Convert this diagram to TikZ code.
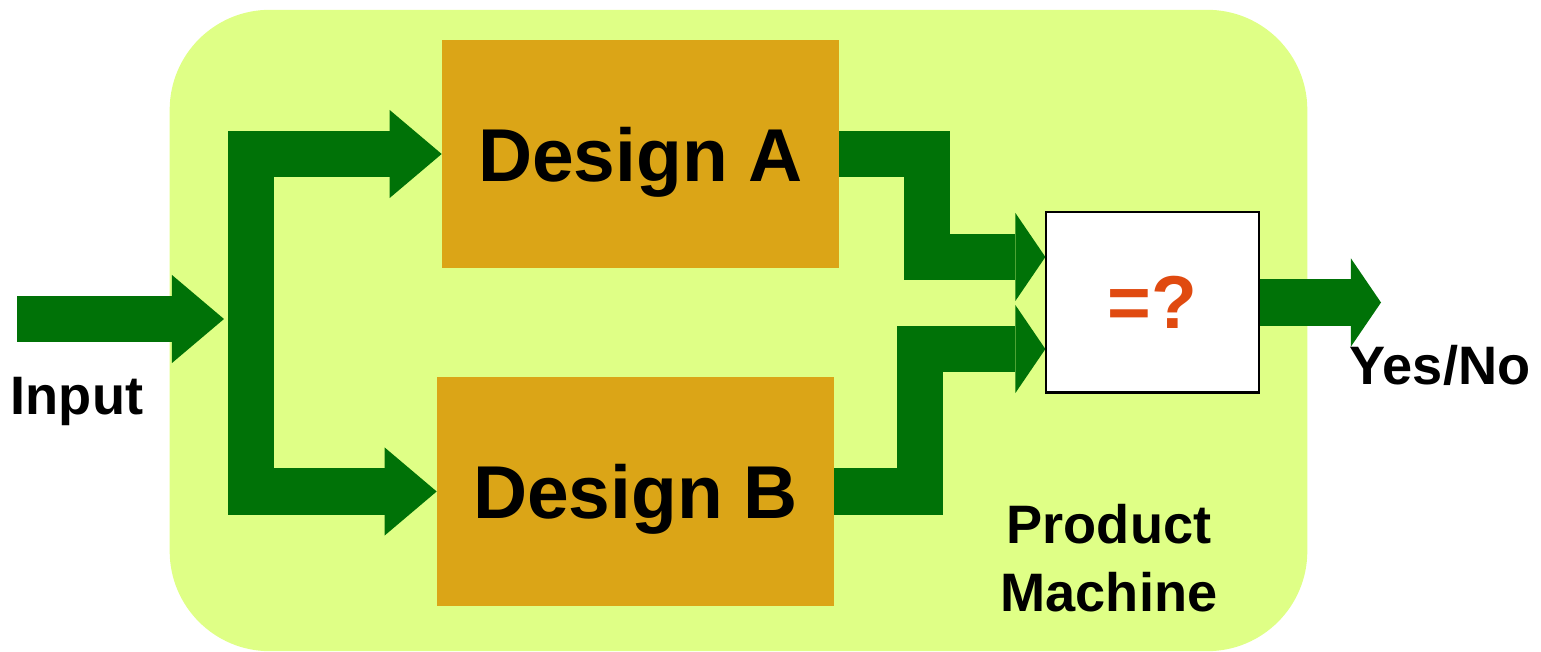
\documentclass[tikz,border=0pt]{standalone}
\usepackage{fontspec}
\setmainfont{Liberation Sans}
\usetikzlibrary{arrows.meta}

\definecolor{limebg}{RGB}{223,255,134}
\definecolor{goldbox}{RGB}{219,165,23}
\definecolor{flowgreen}{RGB}{0,114,7}
\definecolor{eqred}{RGB}{224,74,16}

\tikzset{
  machine/.style={fill=limebg, rounded corners=1cm, inner sep=0pt, minimum width=11.37cm, minimum height=6.41cm},
  design/.style={fill=goldbox, inner sep=0pt, text depth=0pt, minimum width=3.96cm, minimum height=2.28cm, font=\fontsize{21.3}{25}\selectfont\bfseries},
  eqbox/.style={draw=black, line width=0.6pt, fill=white, inner sep=0pt, minimum width=2.12cm, minimum height=1.8cm, text=eqred, font=\fontsize{21.3}{25}\selectfont\bfseries},
  lbl/.style={inner sep=0pt, font=\fontsize{15.4}{19.1}\selectfont\bfseries},
  bighead/.tip={Triangle[width=0.88cm, length=0.52cm, line width=0pt]},
  smallhead/.tip={Triangle[width=0.88cm, length=0.30cm, line width=0pt]},
  flow/.style={draw=flowgreen, line width=0.46cm, line join=miter, -bighead},
  flowshort/.style={flow, -smallhead}
}

\begin{document}
\begin{tikzpicture}[x=0.01cm, y=-0.01cm]

\useasboundingbox (0,0) rectangle (1541,652);

\node[machine] (pm) at (738.5,330.5) {};

\node[design] (A) at (640.5,154) {Design A};
\node[design] (B) at (635.5,491.5) {Design B};
\node[eqbox] (eq) at (1152.5,302.5) {=?};

\coordinate (in) at (17,319);
\coordinate (fork) at (251,319);
\coordinate (out) at (1381,302.5);
\coordinate (eqA) at ([yshift=0.455cm]eq.west);
\coordinate (eqB) at ([yshift=-0.465cm]eq.west);

% input splits to both designs
\draw[flow] (in) -- ([xshift=-0.27cm]fork);
\draw[flow, bighead-bighead] (A.west) -| (fork) |- (B.west);

% outputs go to the comparator
\draw[flowshort] (A.east) -- ++(88,0) |- (eqA);
\draw[flowshort] (B.east) -- ++(86,0) |- (eqB);
\draw[flowshort] (eq.east) -- (out);

\node[lbl, anchor=base] (inlbl) at (77,415) {Input};
\node[lbl, anchor=base] (outlbl) at (1440,385) {Yes/No};
\node[lbl, align=center, anchor=north] (pmlbl) at (1109,504) {Product\\Machine};

\end{tikzpicture}
\end{document}
